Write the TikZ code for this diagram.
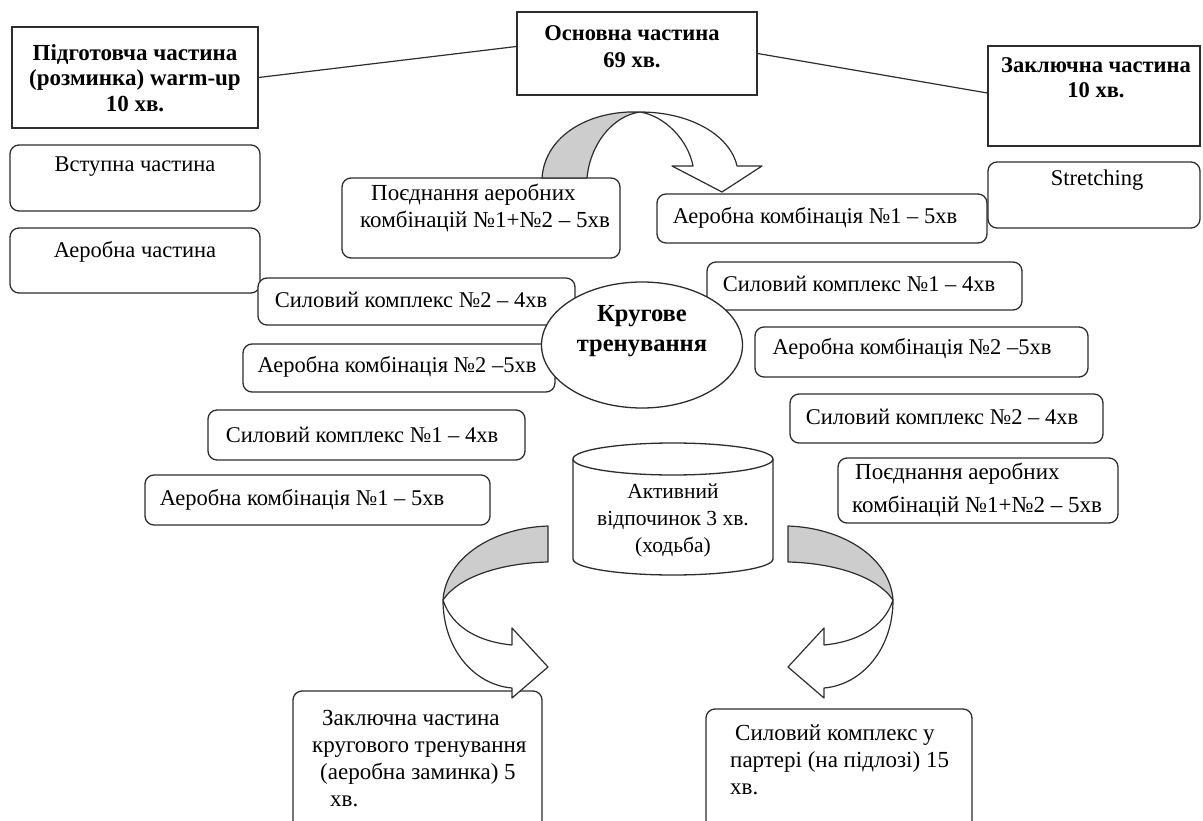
\documentclass[tikz,border=0pt]{standalone}
\usepackage{fontspec}
\setmainfont{Liberation Serif}
\usetikzlibrary{shapes.geometric}
\definecolor{ln}{RGB}{45,45,45}
\definecolor{gr}{RGB}{205,205,205}
\begin{document}
\begin{tikzpicture}[x=1pt,y=-1pt,
  box/.style={draw=ln, line width=1.3pt, inner sep=0pt, fill=white},
  rbox/.style={box, rounded corners=9pt},
  txt/.style={inner sep=0pt, align=center, font=\fontsize{22.5}{27}\selectfont},
  ltxt/.style={txt, align=left},
  btxt/.style={txt, font=\fontsize{22.5}{26}\selectfont\bfseries},
  conn/.style={draw=ln, line width=1.2pt},
  back/.style={draw=ln, line width=1.2pt, fill=gr, line join=round},
  front/.style={draw=ln, line width=1.2pt, fill=white, line join=round}]
\useasboundingbox (0,0) rectangle (1203,821);

% top level boxes
\node[box, minimum width=246pt, minimum height=101pt] (prep) at (135,77.5) {};
\node[btxt, font=\fontsize{23}{25.5}\selectfont\bfseries] (prept) at (135,78) {Підготовча частина\\(розминка) warm-up\\10 хв.};
\node[box, minimum width=240pt, minimum height=83pt] (main) at (637,53.5) {};
\node[btxt, font=\fontsize{22.5}{27}\selectfont\bfseries] (maint) at (632,47) {Основна частина\\69 хв.};
\node[box, minimum width=212pt, minimum height=100pt] (final) at (1094,96) {};
\node[btxt, font=\fontsize{22.5}{25}\selectfont\bfseries] (finalt) at (1096,78) {Заключна частина\\10 хв.};
\draw[conn] (prep.east) -- ([yshift=7pt]main.west);
\draw[conn] (main.east) -- ([yshift=3pt]final.west);

% left column
\node[rbox, minimum width=250pt, minimum height=66pt] (intro) at (135,178) {};
\node[txt] (introt) at (135,167) {Вступна частина};
\node[rbox, minimum width=250pt, minimum height=65pt] (aerob) at (135,260.5) {};
\node[txt] (aerobt) at (135,252) {Аеробна частина};

% upper middle
\node[rbox, minimum width=278pt, minimum height=80pt] (combT) at (481,218) {};
\node[ltxt, anchor=west, font=\fontsize{23}{27}\selectfont] (combTt) at (360,208) {\hspace*{11pt}Поєднання аеробних\\комбінацій №1+№2 – 5хв};
\node[rbox, minimum width=330pt, minimum height=49pt] (a1T) at (822,218.5) {};
\node[txt] (a1Tt) at (815,218) {Аеробна комбінація №1 – 5хв};
\node[rbox, minimum width=212pt, minimum height=66pt] (str) at (1094,195) {};
\node[txt] (strt) at (1097,180) {Stretching};

% left stack
\node[rbox, minimum width=317pt, minimum height=47pt] (s2L) at (416.5,301.5) {};
\node[txt] (s2Lt) at (411,300) {Силовий комплекс №2 – 4хв};
\node[rbox, minimum width=312pt, minimum height=48pt] (a2L) at (399,368) {};
\node[txt] (a2Lt) at (397,367) {Аеробна комбінація №2 –5хв};
\node[rbox, minimum width=317pt, minimum height=50pt] (s1L) at (366.5,435) {};
\node[txt] (s1Lt) at (362,435) {Силовий комплекс №1 – 4хв};
\node[rbox, minimum width=345pt, minimum height=50pt] (a1L) at (317.5,500) {};
\node[txt] (a1Lt) at (302,500) {Аеробна комбінація №1 – 5хв};

% right stack
\node[rbox, minimum width=315pt, minimum height=48pt] (s1R) at (864.5,286) {};
\node[txt] (s1Rt) at (859,284) {Силовий комплекс №1 – 4хв};
\node[rbox, minimum width=333pt, minimum height=50pt] (a2R) at (921.5,352) {};
\node[txt] (a2Rt) at (912,349) {Аеробна комбінація №2 –5хв};
\node[rbox, minimum width=313pt, minimum height=49pt] (s2R) at (946.5,418.5) {};
\node[txt] (s2Rt) at (942,417) {Силовий комплекс №2 – 4хв};
\node[rbox, minimum width=280pt, minimum height=65pt] (combR) at (978,490.5) {};
\node[ltxt, anchor=west, font=\fontsize{23}{33}\selectfont] (combRt) at (852,490) {\hspace*{3pt}Поєднання аеробних\\комбінацій №1+№2 – 5хв};

% centre ellipse
\node[ellipse, draw=ln, line width=1.3pt, fill=white, minimum width=201pt, minimum height=126pt, inner sep=0pt] (circ) at (642,345) {};
\node[btxt, font=\fontsize{24.5}{30}\selectfont\bfseries] (circt) at (642,331) {Кругове\\тренування};

% cylinder
\draw[draw=ln, line width=1.3pt, fill=white] (573,459) -- (573,559) arc (180:0:100 and 16) -- (773,459);
\draw[draw=ln, line width=1.3pt, fill=white] (673,459) ellipse (100 and 16);
\node[txt, font=\fontsize{21.5}{27}\selectfont] (cyl) at (673,520) {Активний\\відпочинок 3 хв.\\(ходьба)};

% bottom boxes
\node[rbox, minimum width=249pt, minimum height=140pt] (endL) at (417.5,761) {};
\node[ltxt, anchor=west, font=\fontsize{23}{27}\selectfont] (endLt) at (312,758.5) {\hspace*{10pt}Заключна частина\\кругового тренування\\\hspace*{8pt}(аеробна заминка) 5\\\hspace*{18pt}хв.};
\node[rbox, minimum width=266pt, minimum height=122pt] (strR) at (839,770) {};
\node[ltxt, anchor=west, font=\fontsize{23}{27}\selectfont] (strRt) at (730,760) {\hspace*{5pt}Силовий комплекс у\\партері (на підлозі) 15\\хв.};

% top curved arrow
\path[back] (542,178) .. controls (545,135) and (590,110) .. (640,112)
  .. controls (612,116) and (590,145) .. (587,178) -- cycle;
\path[front] (640,112) .. controls (690,112) and (730,135) .. (737,166)
  -- (762,166) -- (722,192) -- (672,166) -- (693,166)
  .. controls (688,140) and (665,116) .. (640,112) -- cycle;

% left curved arrow
\path[back] (548,526) .. controls (492,528) and (446,558) .. (443,600)
  .. controls (460,575) and (505,563) .. (548,562) -- cycle;
\path[front] (443,600) .. controls (443,650) and (475,685) .. (512,688)
  -- (512,698) -- (548,667) -- (512,628) -- (512,645)
  .. controls (480,642) and (452,628) .. (443,600) -- cycle;

% right curved arrow
\path[back] (788,526) .. controls (844,528) and (890,558) .. (893,600)
  .. controls (876,575) and (831,563) .. (788,562) -- cycle;
\path[front] (893,600) .. controls (893,650) and (861,685) .. (824,688)
  -- (824,698) -- (788,667) -- (824,628) -- (824,645)
  .. controls (856,642) and (884,628) .. (893,600) -- cycle;
\end{tikzpicture}
\end{document}
